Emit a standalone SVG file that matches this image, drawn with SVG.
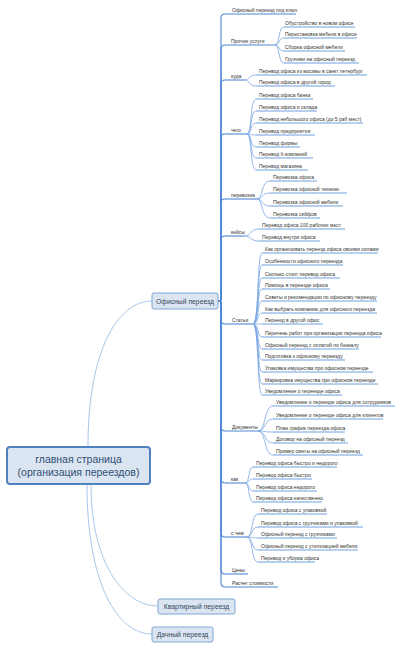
<svg xmlns="http://www.w3.org/2000/svg" width="400" height="649" viewBox="0 0 400 649">
<style>
text{font-family:"Liberation Sans",Arial,sans-serif;}
.bg{fill:#ffffff}
.root rect{fill:#dbe5f1;stroke:#4f81bd;stroke-width:2}
.root text{font-size:10.5px;fill:#2f4f75;text-anchor:middle}
.main rect{fill:#dbe5f1;stroke:#7fa6d6;stroke-width:1}
.main text{font-size:6.8px;fill:#35485e;text-anchor:middle}
.t{font-size:5px;fill:#333333}
.u2{stroke:#4d87d3;stroke-width:1.1;fill:none}
.u3{stroke:#5f95dc;stroke-width:0.9;fill:none}
.c0{stroke:#a9c6ec;stroke-width:1;fill:none}
.c2{stroke:#4d87d3;stroke-width:1.1;fill:none}
.c3{stroke:#7aa7e3;stroke-width:0.8;fill:none}
</style>
<rect class="bg" x="0" y="0" width="400" height="649"/>

<g id="connectors">
  <!-- root to main topics -->
  <path class="c0" d="M88,446 C88,350 118,301 152,301"/>
  <path class="c0" d="M91,484 C91,565 125,606 158,606"/>
  <path class="c0" d="M87,484 C87,585 118,634 152,634"/>
  <!-- level 2 -->
  <path class="c2" d="M218,301 C221,301 221,301 221,297 V18 Q221,14 225,14"/>
  <path class="c2" d="M218,301 C221,301 221,301 221,297 V49 Q221,45 225,45"/>
  <path class="c2" d="M218,301 C221,301 221,301 221,297 V84 Q221,80 225,80"/>
  <path class="c2" d="M218,301 C221,301 221,301 221,297 V138 Q221,134 225,134"/>
  <path class="c2" d="M218,301 C221,301 221,301 221,297 V203 Q221,199 225,199"/>
  <path class="c2" d="M218,301 C221,301 221,301 221,297 V240 Q221,236 225,236"/>
  <path class="c2" d="M218,301 C221,301 221,301 221,305 V320 Q221,324 225,324"/>
  <path class="c2" d="M218,301 C221,301 221,301 221,305 V427 Q221,431 225,431"/>
  <path class="c2" d="M218,301 C221,301 221,301 221,305 V479 Q221,483 225,483"/>
  <path class="c2" d="M218,301 C221,301 221,301 221,305 V533 Q221,537 225,537"/>
  <path class="c2" d="M218,301 C221,301 221,301 221,305 V570 Q221,574 225,574"/>
  <path class="c2" d="M218,301 C221,301 221,301 221,305 V583 Q221,587 225,587"/>
  <!-- Прочие услуги -->
  <path class="c3" d="M275,45 C280,45 278,27 284,27"/>
  <path class="c3" d="M275,45 C280,45 278,38 284,38"/>
  <path class="c3" d="M275,45 C280,45 278,51 284,51"/>
  <path class="c3" d="M275,45 C280,45 278,63 284,63"/>
  <!-- куда -->
  <path class="c3" d="M245,80 C250,80 248,75 256,75"/>
  <path class="c3" d="M245,80 C250,80 248,86 256,86"/>
  <!-- чего -->
  <path class="c3" d="M247,134 C252,134 250,99 256,99"/>
  <path class="c3" d="M247,134 C252,134 250,111 256,111"/>
  <path class="c3" d="M247,134 C252,134 250,123 256,123"/>
  <path class="c3" d="M247,134 C252,134 250,135 256,135"/>
  <path class="c3" d="M247,134 C252,134 250,147 256,147"/>
  <path class="c3" d="M247,134 C252,134 250,158 256,158"/>
  <path class="c3" d="M247,134 C252,134 250,170 256,170"/>
  <!-- перевозка -->
  <path class="c3" d="M257,199 C263,199 261,181 270,181"/>
  <path class="c3" d="M257,199 C263,199 261,193 270,193"/>
  <path class="c3" d="M257,199 C263,199 261,206 270,206"/>
  <path class="c3" d="M257,199 C263,199 261,218 270,218"/>
  <!-- кейсы -->
  <path class="c3" d="M245,236 C251,236 250,229 259,229"/>
  <path class="c3" d="M245,236 C251,236 250,241 259,241"/>
  <!-- Статьи -->
  <path class="c3" d="M253,324 C259,324 257,253 262,253"/>
  <path class="c3" d="M253,324 C259,324 257,265 262,265"/>
  <path class="c3" d="M253,324 C259,324 257,278 262,278"/>
  <path class="c3" d="M253,324 C259,324 257,289 262,289"/>
  <path class="c3" d="M253,324 C259,324 257,301 262,301"/>
  <path class="c3" d="M253,324 C259,324 257,313 262,313"/>
  <path class="c3" d="M253,324 C259,324 257,324 262,324"/>
  <path class="c3" d="M253,324 C259,324 257,337 262,337"/>
  <path class="c3" d="M253,324 C259,324 257,349 262,349"/>
  <path class="c3" d="M253,324 C259,324 257,360 262,360"/>
  <path class="c3" d="M253,324 C259,324 257,372 262,372"/>
  <path class="c3" d="M253,324 C259,324 257,384 262,384"/>
  <path class="c3" d="M253,324 C259,324 257,395 262,395"/>
  <!-- Документы -->
  <path class="c3" d="M258,431 C266,431 264,406 273,406"/>
  <path class="c3" d="M258,431 C266,431 264,419 273,419"/>
  <path class="c3" d="M258,431 C266,431 264,432 273,432"/>
  <path class="c3" d="M258,431 C266,431 264,443 273,443"/>
  <path class="c3" d="M258,431 C266,431 264,455 273,455"/>
  <!-- как -->
  <path class="c3" d="M245,483 C250,483 248,467 253,467"/>
  <path class="c3" d="M245,483 C250,483 248,479 253,479"/>
  <path class="c3" d="M245,483 C250,483 248,491 253,491"/>
  <path class="c3" d="M245,483 C250,483 248,502 253,502"/>
  <!-- с чем -->
  <path class="c3" d="M247,537 C253,537 251,514 258,514"/>
  <path class="c3" d="M247,537 C253,537 251,527 258,527"/>
  <path class="c3" d="M247,537 C253,537 251,538 258,538"/>
  <path class="c3" d="M247,537 C253,537 251,550 258,550"/>
  <path class="c3" d="M247,537 C253,537 251,562 258,562"/>
</g>

<g id="root" class="root">
  <rect x="7" y="447" width="143" height="37" rx="3"/>
  <text x="78.5" y="463">главная страница</text>
  <text x="78.5" y="476">(организация переездов)</text>
</g>
<g id="office" class="main">
  <rect x="152" y="293" width="66" height="16" rx="2"/>
  <text x="185" y="303.5">Офисный переезд</text>
</g>
<g id="flat" class="main">
  <rect x="158" y="599" width="77" height="15" rx="2"/>
  <text x="196.5" y="609">Квартирный переезд</text>
</g>
<g id="dacha" class="main">
  <rect x="152" y="627" width="61" height="15" rx="2"/>
  <text x="182.5" y="637">Дачный переезд</text>
</g>

<!-- level 2 -->
<g id="n-kluch"><path class="u2" d="M225,14 H296"/><text class="t" x="232" y="12">Офисный переезд под ключ</text></g>
<g id="n-prochie"><path class="u2" d="M225,45 H275"/><text class="t" x="231" y="43">Прочие услуги</text></g>
<g id="n-kuda"><path class="u2" d="M225,80 H245"/><text class="t" x="231" y="78">куда</text></g>
<g id="n-chego"><path class="u2" d="M225,134 H247"/><text class="t" x="231" y="132">чего</text></g>
<g id="n-perevozka"><path class="u2" d="M225,199 H257"/><text class="t" x="231" y="197">перевозка</text></g>
<g id="n-keisy"><path class="u2" d="M225,236 H245"/><text class="t" x="231" y="234">кейсы</text></g>
<g id="n-stati"><path class="u2" d="M225,324 H253"/><text class="t" x="232" y="322">Статьи</text></g>
<g id="n-docs"><path class="u2" d="M225,431 H258"/><text class="t" x="232" y="429">Документы</text></g>
<g id="n-kak"><path class="u2" d="M225,483 H245"/><text class="t" x="231" y="481">как</text></g>
<g id="n-schem"><path class="u2" d="M225,537 H247"/><text class="t" x="231" y="535">с чем</text></g>
<g id="n-ceny"><path class="u2" d="M225,574 H248"/><text class="t" x="232" y="572">Цены</text></g>
<g id="n-raschet"><path class="u2" d="M225,587 H278"/><text class="t" x="232" y="585">Расчет стоимости</text></g>

<!-- Прочие услуги children -->
<g id="p1"><path class="u3" d="M284,27 H355"/><text class="t" x="285" y="25">Обустройство в новом офисе</text></g>
<g id="p2"><path class="u3" d="M284,38 H357"/><text class="t" x="285" y="36">Перестановка мебели в офисе</text></g>
<g id="p3"><path class="u3" d="M284,51 H345"/><text class="t" x="285" y="49">Сборка офисной мебели</text></g>
<g id="p4"><path class="u3" d="M284,63 H359"/><text class="t" x="285" y="61">Грузчики на офисный переезд</text></g>

<!-- куда children -->
<g id="k1"><path class="u3" d="M256,75 H367"/><text class="t" x="259" y="73">Перевод офиса из москвы в санкт петербург</text></g>
<g id="k2"><path class="u3" d="M256,86 H335"/><text class="t" x="259" y="84">Перевод офиса в другой город</text></g>

<!-- чего children -->
<g id="c1"><path class="u3" d="M256,99 H313"/><text class="t" x="259" y="97">Перевод офиса банка</text></g>
<g id="c2"><path class="u3" d="M256,111 H317"/><text class="t" x="259" y="109">Перевод офиса и склада</text></g>
<g id="c3"><path class="u3" d="M256,123 H363"/><text class="t" x="259" y="121">Перевод небольшого офиса (до 5 раб мест)</text></g>
<g id="c4"><path class="u3" d="M256,135 H315"/><text class="t" x="259" y="133">Перевод предприятия</text></g>
<g id="c5"><path class="u3" d="M256,147 H300"/><text class="t" x="259" y="145">Перевод фирмы</text></g>
<g id="c6"><path class="u3" d="M256,158 H313"/><text class="t" x="259" y="156">Перевод It компаний</text></g>
<g id="c7"><path class="u3" d="M256,170 H308"/><text class="t" x="259" y="168">Перевод магазина</text></g>

<!-- перевозка children -->
<g id="v1"><path class="u3" d="M270,181 H317"/><text class="t" x="273" y="179">Перевозка офиса</text></g>
<g id="v2"><path class="u3" d="M270,193 H347"/><text class="t" x="273" y="191">Перевозка офисной техники</text></g>
<g id="v3"><path class="u3" d="M270,206 H343"/><text class="t" x="273" y="204">Перевозка офисной мебели</text></g>
<g id="v4"><path class="u3" d="M270,218 H320"/><text class="t" x="273" y="216">Перевозка сейфов</text></g>

<!-- кейсы children -->
<g id="e1"><path class="u3" d="M259,229 H345"/><text class="t" x="262" y="227">Перевод офиса 100 рабочих мест</text></g>
<g id="e2"><path class="u3" d="M259,241 H320"/><text class="t" x="262" y="239">Перевод внутри офиса</text></g>

<!-- Статьи children -->
<g id="s1"><path class="u3" d="M262,253 H378"/><text class="t" x="265" y="251">Как организовать переезд офиса своими силами</text></g>
<g id="s2"><path class="u3" d="M262,265 H343"/><text class="t" x="265" y="263">Особенности офисного переезда</text></g>
<g id="s3"><path class="u3" d="M262,278 H340"/><text class="t" x="265" y="276">Сколько стоит перевод офиса</text></g>
<g id="s4"><path class="u3" d="M262,289 H330"/><text class="t" x="265" y="287">Помощь в переезде офиса</text></g>
<g id="s5"><path class="u3" d="M262,301 H377"/><text class="t" x="265" y="299">Советы и рекомендации по офисному переезду</text></g>
<g id="s6"><path class="u3" d="M262,313 H377"/><text class="t" x="265" y="311">Как выбрать компанию для офисного переезда</text></g>
<g id="s7"><path class="u3" d="M262,324 H323"/><text class="t" x="265" y="322">Переезд в другой офис</text></g>
<g id="s8"><path class="u3" d="M262,337 H381"/><text class="t" x="265" y="335">Перечень работ при организации переезда офиса</text></g>
<g id="s9"><path class="u3" d="M262,349 H359"/><text class="t" x="265" y="347">Офисный переезд с оплатой по безналу</text></g>
<g id="s10"><path class="u3" d="M262,360 H345"/><text class="t" x="265" y="358">Подготовка к офисному переезду</text></g>
<g id="s11"><path class="u3" d="M262,372 H373"/><text class="t" x="265" y="370">Упаковка имущества при офисном переезде</text></g>
<g id="s12"><path class="u3" d="M262,384 H378"/><text class="t" x="265" y="382">Маркировка имущества при офисном переезде</text></g>
<g id="s13"><path class="u3" d="M262,395 H342"/><text class="t" x="265" y="393">Уведомление о переезде офиса</text></g>

<!-- Документы children -->
<g id="d1"><path class="u3" d="M273,406 H395"/><text class="t" x="276" y="404">Уведомление о переезде офиса для сотрудников</text></g>
<g id="d2"><path class="u3" d="M273,419 H383"/><text class="t" x="276" y="417">Уведомление о переезде офиса для клиентов</text></g>
<g id="d3"><path class="u3" d="M273,432 H345"/><text class="t" x="276" y="430">План график переезда офиса</text></g>
<g id="d4"><path class="u3" d="M273,443 H348"/><text class="t" x="276" y="441">Договор на офисный переезд</text></g>
<g id="d5"><path class="u3" d="M273,455 H363"/><text class="t" x="276" y="453">Пример сметы на офисный переезд</text></g>

<!-- как children -->
<g id="h1"><path class="u3" d="M253,467 H337"/><text class="t" x="256" y="465">Перевод офиса быстро и недорого</text></g>
<g id="h2"><path class="u3" d="M253,479 H312"/><text class="t" x="256" y="477">Перевод офиса быстро</text></g>
<g id="h3"><path class="u3" d="M253,491 H317"/><text class="t" x="256" y="489">Перевод офиса недорого</text></g>
<g id="h4"><path class="u3" d="M253,502 H322"/><text class="t" x="256" y="500">Перевод офиса качественно</text></g>

<!-- с чем children -->
<g id="w1"><path class="u3" d="M258,514 H327"/><text class="t" x="261" y="512">Перевод офиса с упаковкой</text></g>
<g id="w2"><path class="u3" d="M258,527 H363"/><text class="t" x="261" y="525">Перевод офиса с грузчиками и упаковкой</text></g>
<g id="w3"><path class="u3" d="M258,538 H337"/><text class="t" x="261" y="536">Офисный переезд с грузчиками</text></g>
<g id="w4"><path class="u3" d="M258,550 H358"/><text class="t" x="261" y="548">Офисный переезд с утилизацией мебели</text></g>
<g id="w5"><path class="u3" d="M258,562 H315"/><text class="t" x="261" y="560">Перевод и уборка офиса</text></g>
</svg>
